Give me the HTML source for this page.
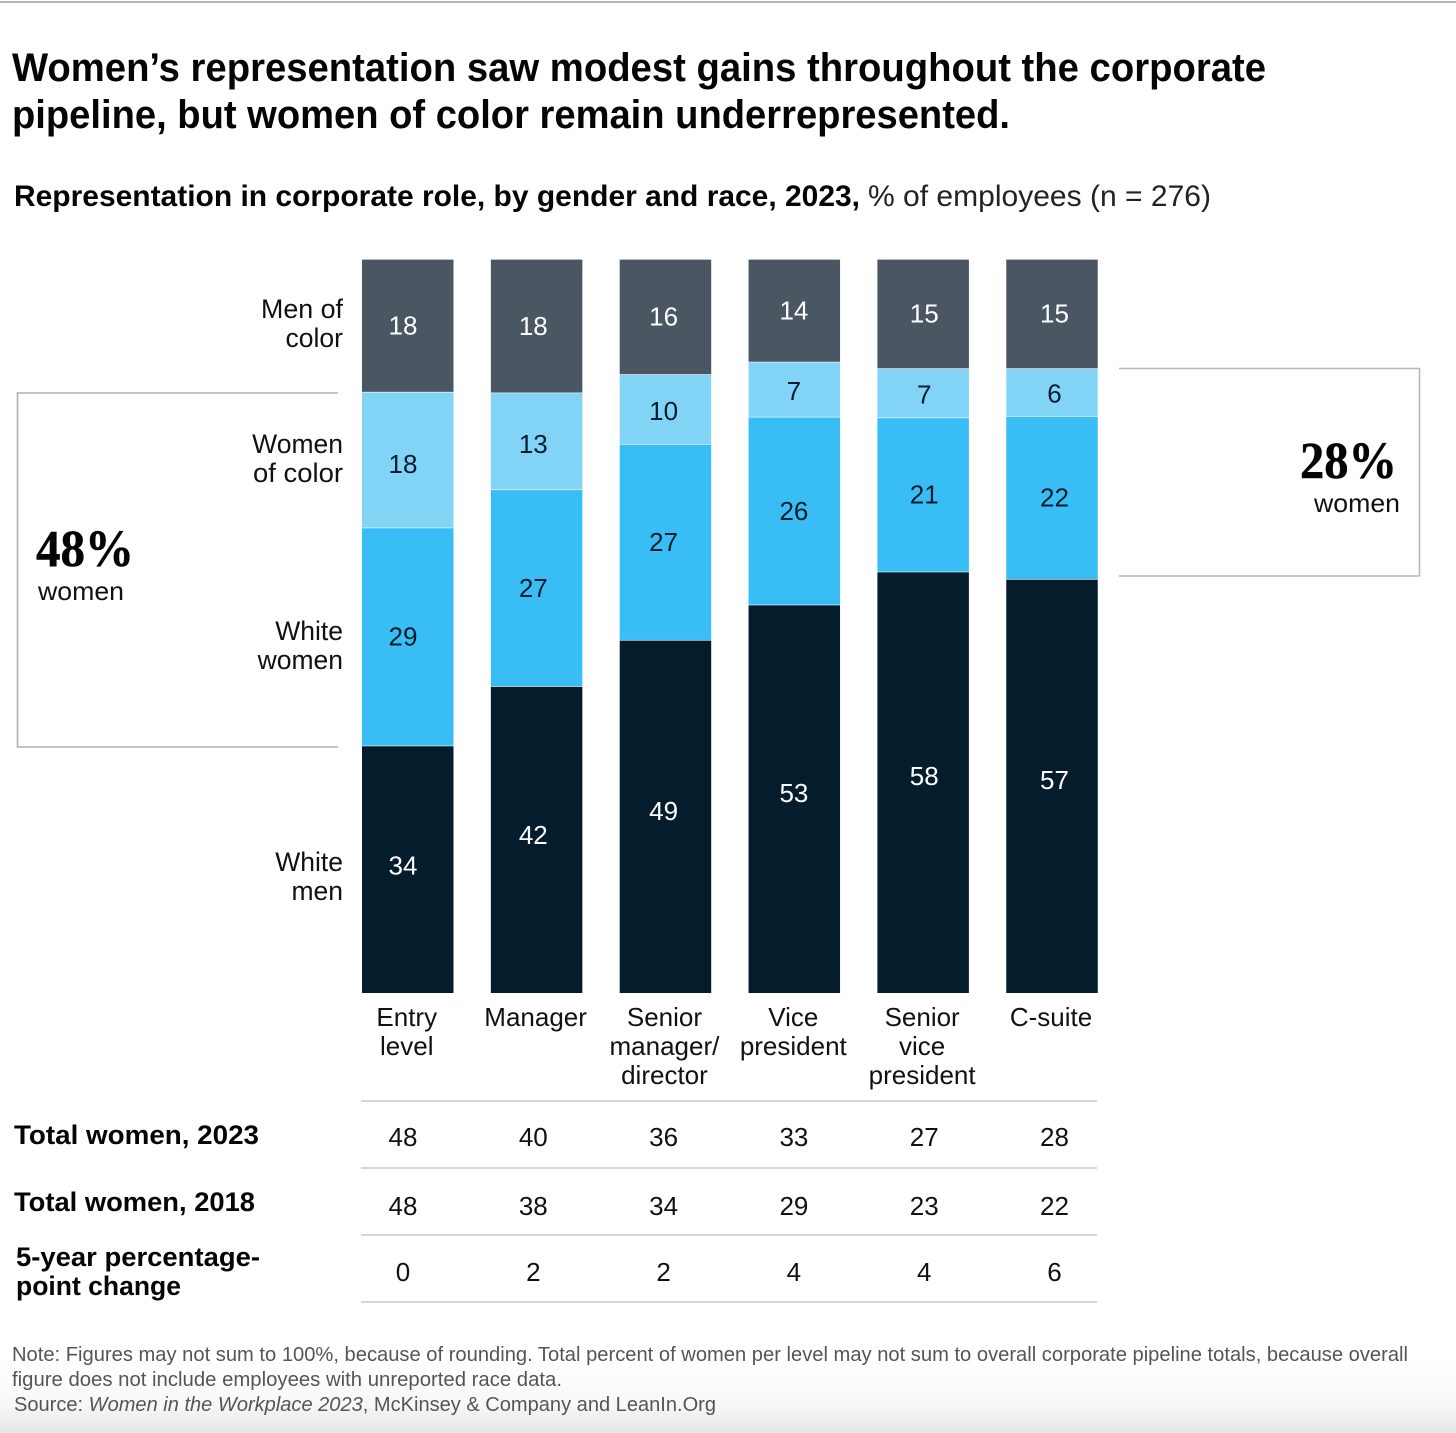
<!DOCTYPE html>
<html lang="en">
<head>
<meta charset="utf-8">
<title>Women's representation in the corporate pipeline</title>
<style>
html,body{margin:0;padding:0;background:#fff;}
svg{display:block;font-family:"Liberation Sans",sans-serif;}
</style>
</head>
<body>
<svg id="chart" xmlns="http://www.w3.org/2000/svg" width="1456" height="1433" viewBox="0 0 1456 1433">
  <defs>
    <linearGradient id="fade" x1="0" y1="0" x2="0" y2="1">
      <stop offset="0" stop-color="#ffffff"/>
      <stop offset="0.6" stop-color="#f8f8f8"/>
      <stop offset="1" stop-color="#e6e6e6"/>
    </linearGradient>
  </defs>
  <rect width="1456" height="1433" fill="#fff"/>
  <rect x="0" y="1360" width="1456" height="73" fill="url(#fade)"/>
  <line x1="0" y1="2" x2="1456" y2="2" stroke="#8e8e8e" stroke-width="1.2"/>

  <text x="12" y="81" font-size="40" font-weight="700" fill="#050505" textLength="1254" lengthAdjust="spacingAndGlyphs">Women’s representation saw modest gains throughout the corporate</text>
  <text x="12" y="128" font-size="40" font-weight="700" fill="#050505" textLength="998" lengthAdjust="spacingAndGlyphs">pipeline, but women of color remain underrepresented.</text>
  <text x="14" y="206" font-size="30" font-weight="700" fill="#050505" textLength="846" lengthAdjust="spacingAndGlyphs">Representation in corporate role, by gender and race, 2023,</text>
  <text x="868" y="206" font-size="30" fill="#222" textLength="343" lengthAdjust="spacingAndGlyphs">% of employees (n = 276)</text>

  <path d="M338 393H17.5V747H338" fill="none" stroke="#b0b0b0" stroke-width="1.6"/>
  <path d="M1119 368.500H1419.500V576H1119" fill="none" stroke="#b8b8b8" stroke-width="1.6"/>

  <text x="36" y="566" font-family="'Liberation Serif',serif" font-size="52" font-weight="700" fill="#050505" stroke="#050505" stroke-width="0.5" textLength="98" lengthAdjust="spacingAndGlyphs">48%</text>
  <text x="38" y="600" font-size="26" fill="#111" textLength="86" lengthAdjust="spacingAndGlyphs">women</text>
  <text x="1300" y="478" font-family="'Liberation Serif',serif" font-size="52" font-weight="700" fill="#050505" stroke="#050505" stroke-width="0.5" textLength="97" lengthAdjust="spacingAndGlyphs">28%</text>
  <text x="1314" y="512" font-size="26" fill="#111" textLength="86" lengthAdjust="spacingAndGlyphs">women</text>

  <g font-size="26.500" fill="#111" text-anchor="end">
    <text x="343" y="318" textLength="82" lengthAdjust="spacingAndGlyphs">Men of</text>
    <text x="343" y="347">color</text>
    <text x="343" y="453">Women</text>
    <text x="343" y="482" textLength="90" lengthAdjust="spacingAndGlyphs">of color</text>
    <text x="343" y="640">White</text>
    <text x="343" y="669">women</text>
    <text x="343" y="871">White</text>
    <text x="343" y="900">men</text>
  </g>

  <g id="bars"></g>
  <g id="categories"></g>
  <g id="table"></g>

  <text x="14" y="1144" font-size="27" font-weight="700" fill="#050505" textLength="245" lengthAdjust="spacingAndGlyphs">Total women, 2023</text>
  <text x="14" y="1211" font-size="27" font-weight="700" fill="#050505" textLength="241" lengthAdjust="spacingAndGlyphs">Total women, 2018</text>
  <text x="16" y="1266" font-size="27" font-weight="700" fill="#050505" textLength="244" lengthAdjust="spacingAndGlyphs">5-year percentage-</text>
  <text x="16" y="1295" font-size="27" font-weight="700" fill="#050505" textLength="165" lengthAdjust="spacingAndGlyphs">point change</text>

  <text x="12" y="1361" font-size="20.500" fill="#555" textLength="1396" lengthAdjust="spacingAndGlyphs">Note: Figures may not sum to 100%, because of rounding. Total percent of women per level may not sum to overall corporate pipeline totals, because overall</text>
  <text x="12" y="1386" font-size="20.500" fill="#555" textLength="550" lengthAdjust="spacingAndGlyphs">figure does not include employees with unreported race data.</text>
  <text x="14" y="1411" font-size="20.500" fill="#555" textLength="702" lengthAdjust="spacingAndGlyphs">Source: <tspan font-style="italic">Women in the Workplace 2023</tspan>, McKinsey &amp; Company and LeanIn.Org</text>
</svg>

<script>
// Chart data (segment shares, printed labels as shown)
const categories = [["Entry","level"],["Manager"],["Senior","manager/","director"],["Vice","president"],["Senior","vice","president"],["C-suite"]];
const whiteMen = [33.7, 41.8, 48.1, 52.9, 57.4, 56.4];
const whiteWomen = [29.7, 26.8, 26.7, 25.6, 21.0, 22.2];
const womenOfColor = [18.5, 13.2, 9.5, 7.5, 6.7, 6.5];
const menOfColor = [18.1, 18.2, 15.7, 14.0, 14.9, 14.9];
const whiteMenLabels = [34, 42, 49, 53, 58, 57];
const whiteWomenLabels = [29, 27, 27, 26, 21, 22];
const womenOfColorLabels = [18, 13, 10, 7, 7, 6];
const menOfColorLabels = [18, 18, 16, 14, 15, 15];
const totalWomen2023 = [48, 40, 36, 33, 27, 28];
const totalWomen2018 = [48, 38, 34, 29, 23, 22];
const fiveYearChange = [0, 2, 2, 4, 4, 6];

const NS = "http://www.w3.org/2000/svg";
const yScale = v => 993 - v * 7.34;
const barX = i => 362 + i * 128.85;
const barWidth = 91.5;
const labelX = i => 403 + i * 130.3;
const categoryX = i => barX(i) + barWidth / 2 - 1;

function makeText(x, y, content, anchor, fill) {
  const t = document.createElementNS(NS, "text");
  t.setAttribute("x", x);
  t.setAttribute("y", y);
  t.setAttribute("font-size", "26");
  t.setAttribute("text-anchor", anchor);
  t.setAttribute("fill", fill);
  t.textContent = content;
  return t;
}

const barsGroup = document.getElementById("bars");
const stackOrder = [
  {key:"white-men", values:whiteMen, labels:whiteMenLabels, color:"#051c2c", ink:"#ffffff", anchor:0.485},
  {key:"white-women", values:whiteWomen, labels:whiteWomenLabels, color:"#38bdf5", ink:"#051c2c", anchor:0.5},
  {key:"women-of-color", values:womenOfColor, labels:womenOfColorLabels, color:"#82d4f6", ink:"#051c2c", anchor:0.53},
  {key:"men-of-color", values:menOfColor, labels:menOfColorLabels, color:"#4a5763", ink:"#ffffff", anchor:0.5}
];

categories.forEach(function (cat, i) {
  let running = 0;
  stackOrder.forEach(function (s) {
    const y0 = yScale(running);
    const y1 = yScale(running + s.values[i]);
    running += s.values[i];

    const r = document.createElementNS(NS, "rect");
    
    
    r.setAttribute("x", barX(i));
    r.setAttribute("y", y1 + 0.6);
    r.setAttribute("width", barWidth);
    r.setAttribute("height", Math.max(0, y0 - y1 - 0.6));
    r.setAttribute("fill", s.color);
    barsGroup.appendChild(r);

    const cy = y1 + (y0 - y1) * s.anchor + 9;
    const t = makeText(labelX(i), cy, String(s.labels[i]), "middle", s.ink);
    
    
    barsGroup.appendChild(t);
  });
});

const catGroup = document.getElementById("categories");
categories.forEach(function (lines, i) {
  lines.forEach(function (line, j) {
    const t = makeText(categoryX(i), 1026 + j * 29, line, "middle", "#111");
    
    
    catGroup.appendChild(t);
  });
});

const tableGroup = document.getElementById("table");
const tableRows = [
  {key:"total-2023", values:totalWomen2023, baseline:1146},
  {key:"total-2018", values:totalWomen2018, baseline:1215},
  {key:"five-year-change", values:fiveYearChange, baseline:1281}
];
[1101, 1168, 1235, 1302].forEach(function (y) {
  const l = document.createElementNS(NS, "line");
  
  
  l.setAttribute("x1", "361");
  l.setAttribute("x2", "1097");
  l.setAttribute("y1", y);
  l.setAttribute("y2", y);
  l.setAttribute("stroke", "#c8c8c8");
  l.setAttribute("stroke-width", "1.6");
  tableGroup.appendChild(l);
});
tableRows.forEach(function (row) {
  row.values.forEach(function (v, i) {
    const t = makeText(labelX(i), row.baseline, String(v), "middle", "#111");
    
    
    tableGroup.appendChild(t);
  });
});
</script>
</body>
</html>
